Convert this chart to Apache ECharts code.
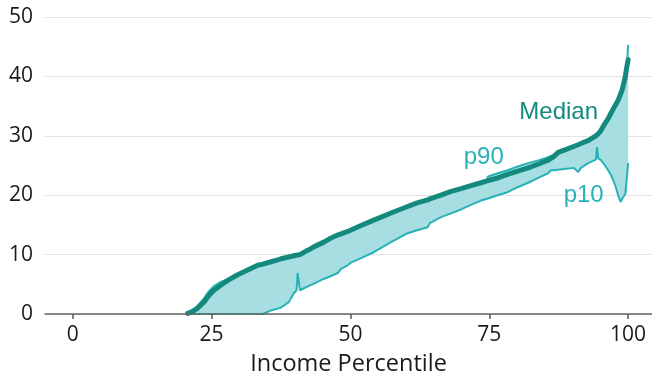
<!DOCTYPE html>
<html>
<head>
<meta charset="utf-8">
<script src="https://cdn.jsdelivr.net/npm/echarts@6/dist/echarts.min.js"></script>
<style>html,body{margin:0;padding:0;background:#fff}#c{width:652px;height:378px}</style>
</head>
<body>
<div id="c"></div>
<script>
// Income percentile (x)
const pct = [20.7,21.5,22.5,23.6,24.5,25.4,26.7,28,29.7,31.5,33.3,34.2,35.7,36.9,37.5,38.9,39.8,40.3,40.5,40.9,42,42.9,43.4,45.2,46.5,47.7,48.3,49.5,50,51.9,54.2,57.3,60.3,62,63.9,64.3,66.3,68,69.9,72,73.5,74.6,74.7,76.5,78.3,80,82,84,85.6,86.1,86.6,87.4,88.5,90.2,91,91.5,92.8,94.2,94.4,94.6,95.1,95.7,96.4,96.9,97.3,97.8,98.2,98.6,98.9,99.2,99.5,99.8,100];
const median = [0.1,0.4,1.0,2.0,3.1,4.0,4.9,5.7,6.6,7.4,8.2,8.4,8.8,9.1,9.3,9.6,9.8,9.9,9.9,10.0,10.6,11.0,11.3,12.1,12.8,13.3,13.5,13.9,14.1,14.9,15.8,17.0,18.1,18.7,19.2,19.4,20.0,20.6,21.1,21.7,22.1,22.4,22.4,22.9,23.5,24.0,24.6,25.3,25.9,26.2,26.5,27.2,27.6,28.2,28.5,28.7,29.2,30.0,30.1,30.3,30.9,31.9,32.9,33.8,34.5,35.3,36.0,36.9,37.7,38.8,40.0,41.8,42.8];
const p10 = [0,0,0,0,0,0,0,0,0,0,0,0,0.6,0.9,1.1,2.0,3.5,4.0,6.9,4.0,4.5,4.9,5.1,5.9,6.4,6.9,7.6,8.2,8.6,9.4,10.4,12.1,13.6,14.1,14.6,15.3,16.3,16.9,17.6,18.5,19.1,19.4,19.4,20.0,20.5,21.3,22.1,23.0,23.7,24.2,24.2,24.3,24.4,24.6,23.9,24.6,25.4,26.0,28.1,26.2,25.9,25.2,24.2,23.4,22.6,21.3,20.0,18.9,18.7,19.8,20.2,20.5,25.4];
const p90 = [0.1,0.5,1.4,2.6,3.8,4.7,5.4,5.9,6.7,7.4,8.2,8.4,8.8,9.1,9.3,9.6,9.8,9.9,9.9,10.0,10.6,11.0,11.3,12.1,12.8,13.3,13.5,13.9,14.1,14.9,15.8,17.0,18.1,18.7,19.2,19.4,20.0,20.6,21.1,21.7,22.1,22.4,23.1,23.7,24.2,24.8,25.4,25.9,26.4,26.6,26.8,27.2,27.6,28.2,28.5,28.7,29.2,30.0,30.1,30.3,30.9,31.9,32.9,33.8,34.5,35.3,36.0,36.9,37.7,38.8,40.0,41.8,45.3];
const xTicks = [0,25,50,75,100];
const seriesNames = ['Median','p90','p10'];

const C_MED = '#148a7f', C_LIGHT = '#27b2b8', C_FILL = '#a6dee1';
const labelAnchors = {Median:[87.5,34.0], p90:[74.0,26.4], p10:[92.0,19.9]};
const labelColors = {Median:C_MED, p90:C_LIGHT, p10:C_LIGHT};

const pts = arr => pct.map((x,i)=>[x,arr[i]]);

const chart = echarts.init(document.getElementById('c'), null, {renderer:'canvas'});
chart.setOption({
  animation:false,
  backgroundColor:'#fff',
  grid:{left:45,right:0,top:17,bottom:64,containLabel:false,outerBoundsMode:'none'},
  xAxis:{
    type:'value',min:-5,max:104.3,z:10,
    axisLine:{show:true,lineStyle:{color:'#666',width:1.5}},
    axisTick:{show:true,length:5,lineStyle:{color:'#555',width:1.5},customValues:xTicks},
    axisLabel:{customValues:xTicks,fontFamily:'Open Sans',fontSize:21,color:'#1a1a1a',margin:11},
    splitLine:{show:false},
    name:'Income Percentile',nameLocation:'middle',nameGap:38,
    nameTextStyle:{fontFamily:'Open Sans',fontSize:23.5,color:'#1a1a1a'}
  },
  yAxis:{
    type:'value',min:0,max:50,interval:10,
    axisLine:{show:false},axisTick:{show:false},
    axisLabel:{fontFamily:'Open Sans',fontSize:21,color:'#1a1a1a',margin:12},
    splitLine:{show:true,lineStyle:{color:'#e2e2e2',width:1.2}}
  },
  series:[
    {type:'custom',silent:true,z:1,data:[0],clip:true,
      renderItem:(params,api)=>{
        const top = pct.map((x,i)=>api.coord([x,p90[i]]));
        const bot = pct.map((x,i)=>api.coord([x,p10[i]])).reverse();
        return {type:'polygon',shape:{points:top.concat(bot)},style:{fill:C_FILL}};
      }},
    {name:seriesNames[2],type:'line',data:pts(p10),symbol:'none',lineStyle:{color:C_LIGHT,width:2},z:2},
    {name:seriesNames[1],type:'line',data:pts(p90),symbol:'none',lineStyle:{color:C_LIGHT,width:2},z:3},
    {name:seriesNames[0],type:'line',data:pts(median),symbol:'none',lineStyle:{color:C_MED,width:5,cap:'round',join:'round'},z:4},
    {type:'scatter',symbolSize:0,silent:true,z:5,itemStyle:{opacity:1},
      data:seriesNames.map(n=>({value:[labelAnchors[n][0],labelAnchors[n][1]],name:n,
        label:{color:labelColors[n]}})),
      label:{show:true,position:'inside',formatter:p=>p.name,fontFamily:'Liberation Sans',fontSize:24,opacity:1}}
  ]
});
</script>
</body>
</html>
